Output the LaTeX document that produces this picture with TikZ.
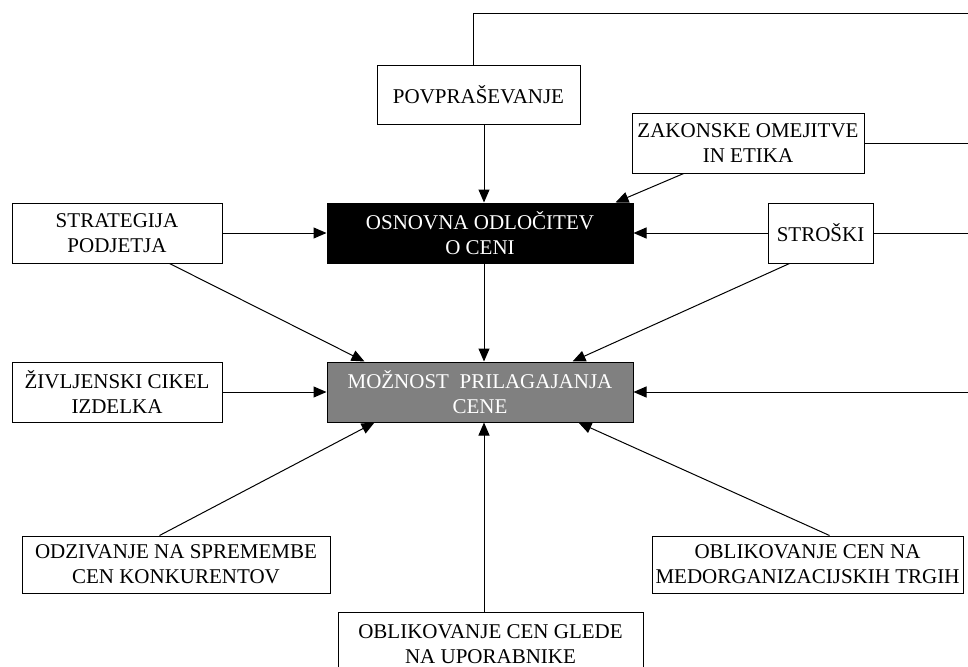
\documentclass[tikz,border=0pt]{standalone}
\usepackage{fontspec}
\setmainfont{Liberation Serif}
\usetikzlibrary{arrows.meta, calc}
\definecolor{PlainGray}{HTML}{808080}
\tikzset{
  box/.style={draw=black, line width=1pt, fill=white, align=center, inner sep=2pt, font=\fontsize{21}{25}\selectfont},
  darkbox/.style={box, fill=black, text=white},
  graybox/.style={box, fill=PlainGray, text=white},
  arrow/.style={-{Triangle[length=13pt, width=11pt]}, line width=1pt},
  link/.style={line width=1pt}
}
\begin{document}
\begin{tikzpicture}[x=1pt, y=-1pt]
\clip (0,0) rectangle (968,666);
% boxes
\node[box, minimum width=203pt, minimum height=58pt] (dem) at (478.5,95) {POVPRAŠEVANJE};
\node[box, minimum width=232pt, minimum height=59pt] (law) at (748,143.5) {ZAKONSKE OMEJITVE\\IN ETIKA};
\node[darkbox, minimum width=306pt, minimum height=60pt] (base) at (480,233) {OSNOVNA ODLOČITEV\\O CENI};
\node[box, minimum width=210pt, minimum height=60pt] (strat) at (117,233) {STRATEGIJA\\PODJETJA};
\node[box, minimum width=105pt, minimum height=60pt] (cost) at (820.5,233) {STROŠKI};
\node[graybox, minimum width=306pt, minimum height=60pt] (adj) at (480,392) {MOŽNOST\ \ PRILAGAJANJA\\CENE};
\node[box, minimum width=210pt, minimum height=60pt] (life) at (117,392) {ŽIVLJENSKI CIKEL\\IZDELKA};
\node[box, minimum width=308pt, minimum height=57pt] (comp) at (176,564.5) {ODZIVANJE NA SPREMEMBE\\CEN KONKURENTOV};
\node[box, minimum width=311pt, minimum height=57pt] (inter) at (807.5,564.5) {OBLIKOVANJE CEN NA\\MEDORGANIZACIJSKIH TRGIH};
\node[box, minimum width=305pt, minimum height=64pt] (user) at (490.5,644) {OBLIKOVANJE CEN GLEDE\\NA UPORABNIKE};
% free ends at the right edge
\coordinate (topR) at (968,14);
\coordinate (lawR) at (968,143.5);
\coordinate (costR) at (968,233);
\coordinate (adjR) at (968,392);
% connectors
\draw[link] ($(dem.north)+(-5,0)$) |- (topR);
\draw[link] (law.east) -- (lawR);
\draw[link] (cost.east) -- (costR);
\draw[arrow] (adjR) -- (adj.east);
\draw[arrow] ($(dem.south)+(5.5,0)$) -- ($(base.north)+(4,0)$);
\draw[arrow] ($(law.south west)!0.224!(law.south east)$) -- ($(base.north east)+(-18,0)$);
\draw[arrow] (strat.east) -- (base.west);
\draw[arrow] (cost.west) -- (base.east);
\draw[arrow] ($(base.south)+(4,0)$) -- ($(adj.north)+(4,0)$);
\draw[arrow] ($(strat.south west)+(158,0)$) -- ($(adj.north west)+(38,0)$);
\draw[arrow] ($(cost.south west)+(22,0)$) -- ($(adj.north east)+(-61,0)$);
\draw[arrow] (life.east) -- (adj.west);
\draw[arrow] ($(comp.north west)+(138,0)$) -- ($(adj.south west)+(48,0)$);
\draw[arrow] ($(inter.north west)+(178,0)$) -- ($(adj.south east)+(-55,0)$);
\draw[arrow] ($(user.north)+(-6.5,0)$) -- ($(adj.south)+(4,0)$);
\end{tikzpicture}
\end{document}
